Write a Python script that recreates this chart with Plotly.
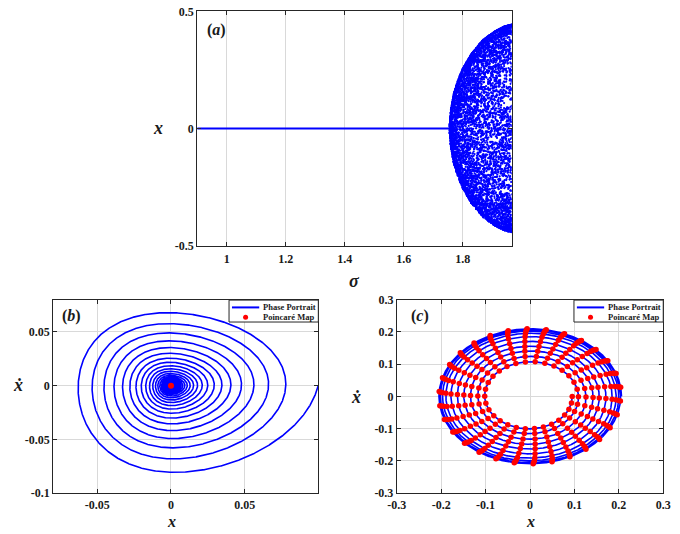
import numpy as np
import plotly.graph_objects as go

# ---------------- data ----------------
# Panel (a): bifurcation diagram  x vs sigma
a_stable_sigma = [0.9, 1.756]          # stable equilibrium branch
a_stable_x = [0.0, 0.0]
a_env_sigma = [1.755, 1.757, 1.76, 1.77, 1.785, 1.80, 1.83, 1.87, 1.91, 1.94, 1.97]
a_env_amp = [0.0, 0.04, 0.08, 0.15, 0.21, 0.255, 0.32, 0.38, 0.415, 0.435, 0.445]
a_xticks = [1, 1.2, 1.4, 1.6, 1.8]
a_xticktext = ["1", "1.2", "1.4", "1.6", "1.8"]
a_yticks = [-0.5, 0, 0.5]
a_yticktext = ["-0.5", "0", "0.5"]

# Panel (b): decaying spiral to the origin
b_outer_radius = 0.0800      # base radius of the first turn
b_decay_per_turn = 0.85      # ratio between successive turns
b_right_skew = 0.146         # right side more extended than left
b_bottom_skew = 0.042        # bottom slightly more extended than top
b_turns = 32
b_poincare_x = [0.0]
b_poincare_y = [0.0]
b_xticks = [-0.05, 0, 0.05]
b_xticktext = ["-0.05", "0", "0.05"]
b_yticks = [-0.1, -0.05, 0, 0.05]
b_yticktext = ["-0.1", "-0.05", "0", "0.05"]

# Panel (c): quasi-periodic ring
c_ring_radius = [0.095, 0.109, 0.126, 0.142, 0.156, 0.171, 0.185, 0.194, 0.200, 0.204, 0.206]
c_dots_per_turn = 30
c_xticks = [-0.3, -0.2, -0.1, 0, 0.1, 0.2, 0.3]
c_xticktext = ["-0.3", "-0.2", "-0.1", "0", "0.1", "0.2", "0.3"]
c_yticks = [-0.3, -0.2, -0.1, 0, 0.1, 0.2, 0.3]
c_yticktext = ["-0.3", "-0.2", "-0.1", "0", "0.1", "0.2", "0.3"]

legend_labels = ["Phase Portrait", "Poincaré Map"]

# ---------------- build traces ----------------
W, H = 680, 534
BLUE = "#0000ff"
RED = "#ff0000"
FRAME = "#262626"
GRID = "#d9d9d9"
FONT = "Liberation Serif, DejaVu Serif, serif"

# (a) cloud: envelope from the picture, points spread with a logistic map
sig_cols = np.arange(1.756, 1.9665, 0.0010)
cloud_s, cloud_x = [], []
z = 0.1234
for s in sig_cols:
    amp = np.interp(s, a_env_sigma, a_env_amp)
    for _ in range(28):
        z = 4.0 * z * (1.0 - z)
        if z <= 1e-9 or z >= 1 - 1e-9:
            z = 0.3141
        cloud_s.append(s)
        cloud_x.append(amp * (2 * z - 1))

# (b) spiral
phi_b = np.linspace(0, 2 * np.pi * b_turns, 40000)
lam = -np.log(b_decay_per_turn) / (2 * np.pi)
r_b = b_outer_radius * np.exp(-lam * phi_b) * (1 + 0.09 * np.exp(-phi_b / 0.6))
xb = r_b * np.cos(phi_b) * (1 + b_right_skew * np.cos(phi_b))
yb = -r_b * np.sin(phi_b) * (1 + b_bottom_skew * np.sin(phi_b))

# (c) ring spiral and sampled points
nt = len(c_ring_radius) - 1
phi_c = np.linspace(0, 2 * np.pi * nt, 12000)
r_c = np.interp(phi_c / (2 * np.pi), np.arange(nt + 1), c_ring_radius)
xc = r_c * np.cos(phi_c)
yc = -r_c * np.sin(phi_c) * 1.02
dphi = 2 * np.pi / c_dots_per_turn * 1.0012
phi_d = np.arange(0, 2 * np.pi * nt, dphi)
r_d = np.interp(phi_d / (2 * np.pi), np.arange(nt + 1), c_ring_radius)
xd = r_d * np.cos(phi_d)
yd = -r_d * np.sin(phi_d) * 1.02

fig = go.Figure()
fig.add_trace(go.Scatter(x=a_stable_sigma, y=a_stable_x, mode="lines",
                         line=dict(color=BLUE, width=2), xaxis="x", yaxis="y", showlegend=False))
fig.add_trace(go.Scatter(x=cloud_s, y=cloud_x, mode="markers",
                         marker=dict(color=BLUE, size=2.2, line=dict(width=0)),
                         xaxis="x", yaxis="y", showlegend=False))
fig.add_trace(go.Scatter(x=xb, y=yb, mode="lines", line=dict(color=BLUE, width=1.6),
                         xaxis="x2", yaxis="y2", name=legend_labels[0], showlegend=False))
fig.add_trace(go.Scatter(x=b_poincare_x, y=b_poincare_y, mode="markers",
                         marker=dict(color=RED, size=6), xaxis="x2", yaxis="y2",
                         name=legend_labels[1], showlegend=False))
fig.add_trace(go.Scatter(x=xc, y=yc, mode="lines", line=dict(color=BLUE, width=1.6),
                         xaxis="x3", yaxis="y3", name=legend_labels[0], showlegend=False))
fig.add_trace(go.Scatter(x=xd, y=yd, mode="markers", marker=dict(color=RED, size=5.5),
                         xaxis="x3", yaxis="y3", name=legend_labels[1], showlegend=False))


def px(p):
    return p / W


def py(p):
    return 1 - p / H


def axis(dom, rng, tv, tt, anchor, standoff=0):
    return dict(domain=dom, range=rng, tickvals=tv, ticktext=tt, anchor=anchor,
                showline=True, linecolor=FRAME, linewidth=1, mirror="allticks",
                ticks="inside", ticklen=4, tickcolor=FRAME, showgrid=True,
                gridcolor=GRID, gridwidth=1, zeroline=False, ticklabelstandoff=standoff,
                tickfont=dict(family=FONT, size=12, color="#1a1a1a", weight="bold"))


top_y0, top_y1 = 4.5, 245
bc_y0, bc_y1 = 300.5, 499.3
fig.update_layout(
    width=W, height=H, margin=dict(l=0, r=0, t=0, b=0),
    paper_bgcolor="white", plot_bgcolor="white", showlegend=False,
    xaxis=axis([px(192.3), px(515.4)], [0.9, 1.966], a_xticks, a_xticktext, "y", 2),
    yaxis=axis([py(top_y1), py(top_y0)], [-0.5, 0.5], a_yticks, a_yticktext, "x"),
    xaxis2=axis([px(44.3), px(316.7)], [-0.08, 0.1], b_xticks, b_xticktext, "y2", 0),
    yaxis2=axis([py(bc_y1), py(bc_y0)], [-0.1, 0.08], b_yticks, b_yticktext, "x2"),
    xaxis3=axis([px(397.3), px(671)], [-0.3, 0.3], c_xticks, c_xticktext, "y3", 0),
    yaxis3=axis([py(bc_y1), py(bc_y0)], [-0.3, 0.3], c_yticks, c_yticktext, "x3"),
)

ann = []


def label(text, x, y, size=18, style="italic", xanchor="center"):
    ann.append(dict(text=text, x=px(x), y=py(y), xref="paper", yref="paper",
                    showarrow=False, xanchor=xanchor, yanchor="middle",
                    font=dict(family=FONT, size=size, color="#1a1a1a", style=style, weight="bold")))


label("x", 152, 124)
label("σ", 354, 281)
label("ẋ", 8, 388)
label("x", 166, 528, size=16)
label("ẋ", 355, 400)
label("x", 535, 528, size=16)
label("(<i>a</i>)", 212, 24, size=16, style="normal")
label("(<i>b</i>)", 63, 317, size=16, style="normal")
label("(<i>c</i>)", 421, 317, size=16, style="normal")

shapes = []
for bl, br in [(225.0, 316.7), (579.3, 671.0)]:
    bt, bb = 301.0, 323.5
    shapes.append(dict(type="rect", xref="paper", yref="paper", x0=px(bl), x1=px(br),
                       y0=py(bb), y1=py(bt), line=dict(color=FRAME, width=1), fillcolor="white"))
    shapes.append(dict(type="line", xref="paper", yref="paper", x0=px(bl + 3), x1=px(bl + 31),
                       y0=py(308.5), y1=py(308.5), line=dict(color=BLUE, width=2)))
    shapes.append(dict(type="circle", xref="paper", yref="paper", xsizemode="pixel",
                       ysizemode="pixel", xanchor=px(bl + 17), yanchor=py(318.5),
                       x0=-2.5, x1=2.5, y0=-2.5, y1=2.5, fillcolor=RED, line=dict(width=0)))
    for txt, yy in zip(legend_labels, [308.5, 318.5]):
        ann.append(dict(text=txt, x=px(bl + 33), y=py(yy), xref="paper", yref="paper",
                        showarrow=False, xanchor="left", yanchor="middle",
                        font=dict(family=FONT, size=8.5, color="#1a1a1a", weight="bold")))

fig.update_layout(annotations=ann, shapes=shapes)
fig.write_html("out.html")
